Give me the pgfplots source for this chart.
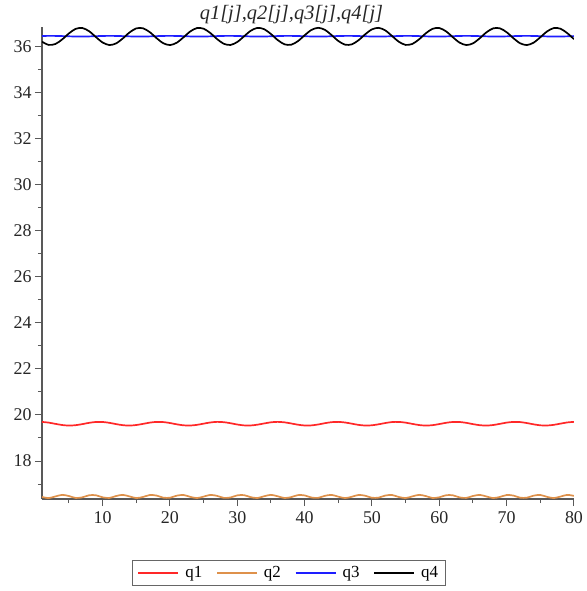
\documentclass[border=0pt]{standalone}
\usepackage{fontspec}
\setmainfont{Liberation Serif}
\usepackage{pgfplots}
\pgfplotsset{compat=1.18}
\definecolor{mred}{RGB}{255,40,40}
\definecolor{morange}{RGB}{222,145,75}
\definecolor{mblue}{RGB}{30,30,255}
\begin{document}
\begin{tikzpicture}
\useasboundingbox (-42bp,-92bp) rectangle (545bp,499bp);
\begin{axis}[
  at={(0,0)}, anchor=south west,
  scale only axis, width=532bp, height=472bp,
  xmin=1, xmax=80, ymin=16.35, ymax=36.85,
  axis lines*=left,
  axis line style={draw=black!65, line width=1.2bp},
  tick style={draw=black!65, line width=1bp},
  tick align=outside,
  major tick length=7bp, minor tick length=4bp,
  xtick={10,20,...,80}, minor xtick={5,15,...,75},
  ytick={18,20,...,36}, minor ytick={17,19,...,35},
  /pgf/number format/assume math mode=true,
  tick label style={font=\fontsize{18}{20}\selectfont, text=black!85},
  xticklabel style={yshift=-2bp},
  legend columns=4,
  legend style={at={(axis description cs:0.464,-0.157)}, anchor=center,
    draw=black!60, line width=1bp, font=\fontsize{17}{19}\selectfont,
    inner xsep=5bp, inner ysep=4bp,
    /tikz/every odd column/.append style={column sep=4bp},
    /tikz/every even column/.append style={column sep=12bp}},
  legend image code/.code={\draw[#1, line width=1.7bp] (0bp,0bp) -- (40bp,0bp);},
  every axis plot/.append style={line width=1.7bp, smooth},
]
\addplot[mred] coordinates {
(1,19.698)(2,19.667)(3,19.613)(4,19.563)(5,19.540)(6,19.556)(7,19.603)(8,19.659)(9,19.695)(10,19.695)
(11,19.659)(12,19.603)(13,19.556)(14,19.540)(15,19.563)(16,19.613)(17,19.667)(18,19.698)(19,19.691)(20,19.650)
(21,19.594)(22,19.551)(23,19.541)(24,19.570)(25,19.623)(26,19.674)(27,19.700)(28,19.686)(29,19.641)(30,19.585)
(31,19.547)(32,19.544)(33,19.578)(34,19.632)(35,19.681)(36,19.700)(37,19.680)(38,19.631)(39,19.577)(40,19.543)
(41,19.547)(42,19.586)(43,19.642)(44,19.687)(45,19.699)(46,19.673)(47,19.622)(48,19.569)(49,19.541)(50,19.552)
(51,19.595)(52,19.651)(53,19.692)(54,19.698)(55,19.666)(56,19.612)(57,19.562)(58,19.540)(59,19.557)(60,19.605)
(61,19.660)(62,19.695)(63,19.695)(64,19.658)(65,19.602)(66,19.556)(67,19.540)(68,19.563)(69,19.614)(70,19.668)
(71,19.698)(72,19.691)(73,19.649)(74,19.593)(75,19.550)(76,19.542)(77,19.571)(78,19.624)(79,19.675)(80,19.700)
};
\addlegendentry{q1}
\addplot[morange] coordinates {
(1,16.438)(2,16.391)(3,16.462)(4,16.530)(5,16.479)(6,16.396)(7,16.423)(8,16.513)(9,16.513)(10,16.423)
(11,16.396)(12,16.479)(13,16.530)(14,16.462)(15,16.391)(16,16.438)(17,16.522)(18,16.501)(19,16.409)(20,16.405)
(21,16.494)(22,16.525)(23,16.445)(24,16.390)(25,16.454)(26,16.528)(27,16.486)(28,16.399)(29,16.417)(30,16.508)
(31,16.518)(32,16.429)(33,16.393)(34,16.471)(35,16.530)(36,16.469)(37,16.393)(38,16.431)(39,16.519)(40,16.506)
(41,16.415)(42,16.400)(43,16.488)(44,16.528)(45,16.452)(46,16.390)(47,16.447)(48,16.526)(49,16.492)(50,16.403)
(51,16.411)(52,16.502)(53,16.522)(54,16.436)(55,16.391)(56,16.464)(57,16.530)(58,16.477)(59,16.395)(60,16.424)
(61,16.514)(62,16.512)(63,16.421)(64,16.397)(65,16.481)(66,16.529)(67,16.460)(68,16.391)(69,16.440)(70,16.523)
(71,16.499)(72,16.408)(73,16.406)(74,16.496)(75,16.525)(76,16.443)(77,16.390)(78,16.456)(79,16.529)(80,16.484)
};
\addlegendentry{q2}
\addplot[mblue] coordinates {
(1,36.459)(2,36.465)(3,36.463)(4,36.455)(5,36.445)(6,36.437)(7,36.435)(8,36.441)(9,36.451)(10,36.461)
(11,36.465)(12,36.462)(13,36.453)(14,36.443)(15,36.436)(16,36.436)(17,36.442)(18,36.453)(19,36.462)(20,36.465)
(21,36.461)(22,36.452)(23,36.441)(24,36.435)(25,36.437)(26,36.444)(27,36.455)(28,36.463)(29,36.465)(30,36.460)
(31,36.450)(32,36.440)(33,36.435)(34,36.437)(35,36.446)(36,36.456)(37,36.464)(38,36.464)(39,36.458)(40,36.448)
(41,36.439)(42,36.435)(43,36.438)(44,36.448)(45,36.458)(46,36.464)(47,36.464)(48,36.457)(49,36.446)(50,36.438)
(51,36.435)(52,36.440)(53,36.449)(54,36.459)(55,36.465)(56,36.463)(57,36.455)(58,36.444)(59,36.437)(60,36.435)
(61,36.441)(62,36.451)(63,36.461)(64,36.465)(65,36.462)(66,36.453)(67,36.443)(68,36.436)(69,36.436)(70,36.443)
(71,36.453)(72,36.462)(73,36.465)(74,36.461)(75,36.451)(76,36.441)(77,36.435)(78,36.437)(79,36.444)(80,36.455)
};
\addlegendentry{q3}
\addplot[black] coordinates {
(1,36.211)(2,36.072)(3,36.113)(4,36.311)(5,36.572)(6,36.770)(7,36.806)(8,36.666)(9,36.415)(10,36.177)
(11,36.066)(12,36.137)(13,36.354)(14,36.614)(15,36.789)(16,36.794)(17,36.628)(18,36.370)(19,36.147)(20,36.065)
(21,36.166)(22,36.399)(23,36.653)(24,36.803)(25,36.777)(26,36.587)(27,36.326)(28,36.120)(29,36.070)(30,36.199)
(31,36.445)(32,36.688)(33,36.812)(34,36.754)(35,36.545)(36,36.284)(37,36.099)(38,36.080)(39,36.235)(40,36.490)
(41,36.721)(42,36.815)(43,36.728)(44,36.500)(45,36.244)(46,36.083)(47,36.095)(48,36.275)(49,36.535)(50,36.748)
(51,36.813)(52,36.697)(53,36.455)(54,36.207)(55,36.072)(56,36.115)(57,36.316)(58,36.578)(59,36.772)(60,36.805)
(61,36.661)(62,36.410)(63,36.173)(64,36.066)(65,36.140)(66,36.360)(67,36.619)(68,36.791)(69,36.793)(70,36.623)
(71,36.365)(72,36.143)(73,36.065)(74,36.169)(75,36.405)(76,36.657)(77,36.804)(78,36.775)(79,36.583)(80,36.321)
};
\addlegendentry{q4}
\end{axis}
\node[font=\itshape\fontsize{20.5}{23}\selectfont, text=black!85] at (249.5bp,484bp) {q1[j],q2[j],q3[j],q4[j]};
\end{tikzpicture}
\end{document}
